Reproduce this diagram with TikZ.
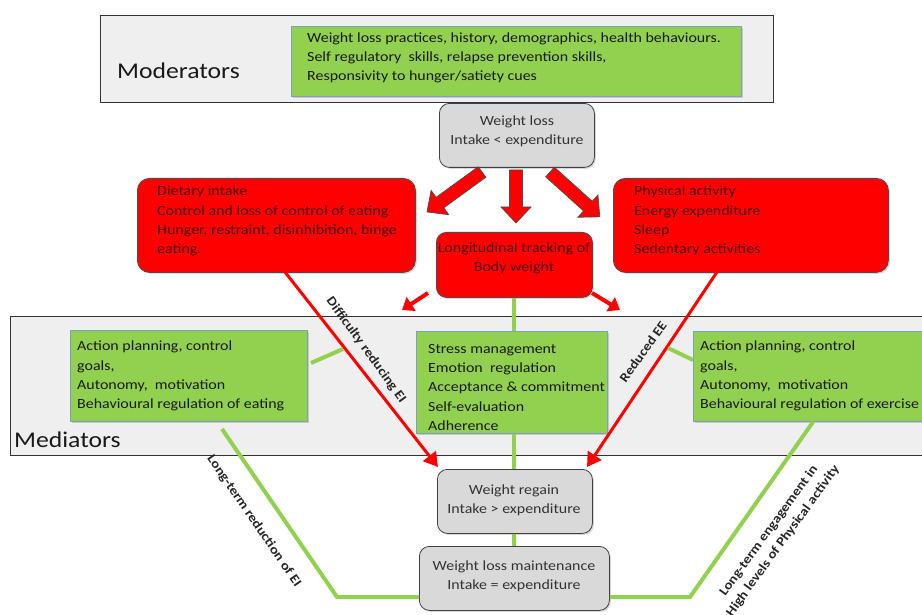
\documentclass[tikz,border=0pt]{standalone}
\usepackage{fontspec}
\setmainfont{Carlito}[FakeStretch=1.14]
\usetikzlibrary{arrows.meta,shadows,calc}
\definecolor{mygreen}{HTML}{92D050}
\definecolor{gborder}{HTML}{7F9FBF}
\definecolor{panel}{HTML}{EFEFEF}
\definecolor{graybox}{HTML}{D9D9D9}
\definecolor{redtext}{HTML}{4A0000}
\definecolor{myred}{HTML}{FF0000}
\tikzset{
  panelbox/.style={draw=black!80, fill=panel, line width=0.8pt, inner sep=0, anchor=north west},
  greenbox/.style={draw=gborder, fill=mygreen, line width=0.6pt, inner sep=0, anchor=north west,
     drop shadow={opacity=0.35, shadow xshift=1.5pt, shadow yshift=-1.5pt}},
  redbox/.style={draw=black!70, fill=myred, line width=0.8pt, rounded corners=12pt, inner sep=0, anchor=north west,
     drop shadow={opacity=0.3, shadow xshift=1.5pt, shadow yshift=-1.5pt}},
  graybox/.style={draw=black!75, fill=graybox, line width=0.8pt, rounded corners=10pt, inner sep=0, anchor=north west,
     drop shadow={opacity=0.3, shadow xshift=1.5pt, shadow yshift=-1.5pt}},
  txt/.style={font=\fontsize{14}{19.2}\selectfont, align=left, inner sep=0, text=black!90},
  rtxt/.style={txt, text=redtext},
  ctxt/.style={font=\fontsize{14}{19.2}\selectfont, align=center, inner sep=0, text=black!80},
  bigtxt/.style={font=\fontsize{22.5}{28}\selectfont, inner sep=0, anchor=west, text=black!90},
  lbl/.style={font=\bfseries\fontsize{13}{17.5}\selectfont, inner sep=0, text=black!85, align=center},
  gline/.style={draw=mygreen, line width=4pt},
  redline/.style={draw=myred, line width=3pt, -{Triangle[length=14pt,width=16pt]}},
  smallred/.style={draw=myred, line width=4pt, -{Triangle[length=11pt,width=16pt]}},
  blk/.style={draw=black!70, fill=myred, line width=0.7pt, line join=miter},
}
\newcommand{\blkarrow}[3]{%
  \begin{scope}[shift={#1}, rotate=#2]
    \draw[blk] (0,-6.5) -- ({#3-16},-6.5) -- ({#3-16},-15) -- (#3,0) -- ({#3-16},15) -- ({#3-16},6.5) -- (0,6.5) -- cycle;
  \end{scope}}
\begin{document}
\begin{tikzpicture}[x=1pt,y=-1pt]
\useasboundingbox[fill=white] (0,0) rectangle (922,615);

% Moderators panel
\node[panelbox, minimum width=673pt, minimum height=87pt] (modpanel) at (100,15) {};
\node[bigtxt] (modlabel) at (117,71) {Moderators};
\node[greenbox, minimum width=450pt, minimum height=70pt] (modgreen) at (291,26) {};
\node[txt, anchor=west] (modtext) at (307,58) {Weight loss practices, history, demographics,\ health behaviours.\\Self regulatory\ \ skills, relapse prevention skills,\\Responsivity to hunger/satiety cues};

% Mediators panel
\node[panelbox, minimum width=920pt, minimum height=139pt] (medpanel) at (10,316) {};
\node[bigtxt] (medlabel) at (14,440) {Mediators};

% Weight loss
\node[graybox, minimum width=155pt, minimum height=64pt] (wloss) at (439,103) {};
\node[ctxt] (wlosst) at (517,131.5) {Weight loss\\Intake < expenditure};

% Block arrows
\blkarrow{(482,172)}{216}{68}
\blkarrow{(516,170)}{-90}{53}
\blkarrow{(550,172)}{-42}{67}

% Red boxes
\node[redbox, minimum width=278pt, minimum height=94pt] (diet) at (137,178) {};
\node[rtxt, anchor=west] (diett) at (157,221) {Dietary intake\\Control and loss of control of eating\\Hunger, restraint, disinhibition, binge\\eating.};
\node[redbox, minimum width=275pt, minimum height=94pt] (phys) at (613,178) {};
\node[rtxt, anchor=west] (physt) at (634,221) {Physical activity\\Energy expenditure\\Sleep\\Sedentary activities};
\node[redbox, rounded corners=10pt, minimum width=156pt, minimum height=65pt] (long) at (436,232) {};
\node[rtxt, align=center] (longt) at (514,258.5) {Longitudinal tracking of\\Body weight};

% small red arrows
\coordinate (la0) at (428,293); \coordinate (la1) at (402,310);
\coordinate (ra0) at (592,293); \coordinate (ra1) at (620,310);
\draw[smallred] (la0) -- (la1);
\draw[smallred] (ra0) -- (ra1);

% Mediator green boxes
\node[greenbox, minimum width=237pt, minimum height=91pt] (medl) at (70,330) {};
\node[txt, anchor=west] (medlt) at (77,376) {Action\ planning, control\\goals,\\Autonomy,\ \ motivation\\Behavioural regulation of eating};
\node[greenbox, minimum width=191pt, minimum height=102pt] (medc) at (416,331) {};
\node[txt, anchor=west] (medct) at (428,387.5) {Stress management\\Emotion\ \ regulation\\Acceptance \& commitment\\Self-evaluation\\Adherence};
\node[greenbox, minimum width=240pt, minimum height=90pt] (medr) at (693,331) {};
\node[txt, anchor=west] (medrt) at (700,376) {Action\ planning, control\\goals,\\Autonomy,\ \ motivation\\Behavioural regulation of exercise};

% Bottom gray boxes
\node[graybox, minimum width=155pt, minimum height=64pt] (regain) at (437,469) {};
\node[ctxt] (regaint) at (514,500.5) {Weight regain\\Intake > expenditure};
\node[graybox, minimum width=190pt, minimum height=64pt] (maint) at (419,546) {};
\node[ctxt] (maintt) at (514,576.5) {Weight loss maintenance\\Intake = expenditure};

% Green vertical connectors
\draw[gline] (long.south) -- (long.south |- medc.north);
\draw[gline] (long.south |- medc.south) -- (long.south |- regain.north);
\draw[gline] (long.south |- regain.south) -- (long.south |- maint.north);

% Red lines
\coordinate (d0) at (285,272); \coordinate (d1) at (438,467);
\coordinate (e0) at (717,272); \coordinate (e1) at (587,467);
\draw[redline] (d0) -- (d1);
\draw[redline] (e0) -- (e1);

% Short green connectors
\coordinate (gl0) at (311,363); \coordinate (gl1) at (343,349);
\draw[gline] (gl0) -- (gl1);
\coordinate (gr0) at (668,348); \coordinate (gr1) at (693,360);
\draw[gline] (gr0) -- (gr1);

% Long-term lines
\coordinate (lt0) at (222,429); \coordinate (lt1) at (337,597);
\draw[gline, line join=miter] (lt0) -- (lt1) -- (lt1 -| maint.west);
\coordinate (rt0) at (813,422); \coordinate (rt1) at (690,597);
\draw[gline, line join=miter] (rt0) -- (rt1) -- (rt1 -| maint.east);

% Labels
\node[lbl, rotate=-54] (lab1) at (366,350) {Difficulty reducing EI};
\node[lbl, rotate=54] (lab2) at (643,352) {Reduced EE};
\node[lbl, rotate=-55.5] (lab3) at (254,521) {Long-term reduction of EI};
\node[lbl, rotate=54] (lab4) at (776,536) {Long-term engagement in\\High levels of Physical activity};
\end{tikzpicture}
\end{document}
